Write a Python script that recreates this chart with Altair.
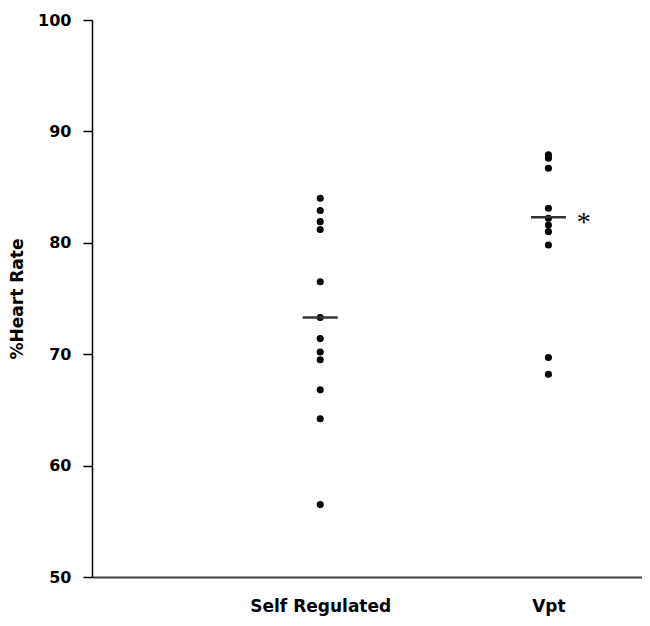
import altair as alt
import pandas as pd

categories = ["Self Regulated", "Vpt"]
self_regulated = [84.0, 82.9, 81.9, 81.2, 76.5, 73.3, 71.4, 70.2, 69.5, 66.8, 64.2, 56.5]
vpt = [87.9, 87.6, 86.7, 83.1, 82.2, 81.6, 81.0, 79.8, 69.7, 68.2]
group_lines = [73.3, 82.3]
significance = ["", "*"]
y_ticks = [50, 60, 70, 80, 90, 100]

rows = []
for i, vals in enumerate([self_regulated, vpt]):
    for v in vals:
        rows.append({"pos": i + 1, "group": categories[i], "value": v})
dots = pd.DataFrame(rows)
lines = pd.DataFrame({"pos": [1, 2], "group": categories, "value": group_lines})
stars = pd.DataFrame({"pos": [p + 0.155 for p in [1, 2]], "value": group_lines, "label": significance})
stars = stars[stars["label"] != ""]

label_expr = " : ".join(
    [f"datum.value == {i + 1} ? '{c}'" for i, c in enumerate(categories[:-1])] + [f"'{categories[-1]}'"]
)

FONT = "DejaVu Sans"

x_scale = alt.Scale(domain=[0, 2.41], nice=False, zero=False)
y_scale = alt.Scale(domain=[50, 100], nice=False, zero=False)

x_axis = alt.Axis(
    values=[1, 2], labelExpr=label_expr, title=None, ticks=False, grid=False,
    domainColor="#404040", domainWidth=2, labelFont=FONT, labelFontSize=17,
    labelFontWeight="bold", labelColor="black", labelPadding=21,
)
y_axis = alt.Axis(
    values=y_ticks, title="%Heart Rate", grid=False, tickSize=9, tickColor="black",
    tickWidth=1.5, domainColor="black", domainWidth=1.5, labelFont=FONT,
    labelFontSize=16, labelFontWeight="bold", labelColor="black", labelPadding=12,
    titleFont=FONT, titleFontSize=17, titleFontWeight="bold", titleColor="black",
    titlePadding=11,
)

points = alt.Chart(dots).mark_circle(size=50, color="black", opacity=1).encode(
    x=alt.X("pos:Q", scale=x_scale, axis=x_axis),
    y=alt.Y("value:Q", scale=y_scale, axis=y_axis),
)

ticks = alt.Chart(lines).mark_tick(
    orient="horizontal", size=35, thickness=2.5, color="#333333", opacity=1
).encode(
    x=alt.X("pos:Q", scale=x_scale),
    y=alt.Y("value:Q", scale=y_scale),
)

star_text = alt.Chart(stars).mark_text(
    font="Liberation Serif", fontSize=28, color="black", align="center", baseline="middle", dy=6
).encode(
    x=alt.X("pos:Q", scale=x_scale),
    y=alt.Y("value:Q", scale=y_scale),
    text="label:N",
)

chart = alt.layer(points, ticks, star_text).properties(
    width=550, height=557,
    autosize=alt.AutoSizeParams(type="none"),
    padding={"left": 84, "top": 12, "right": 0, "bottom": 46},
).configure(background="white").configure_view(stroke=None)

chart.save("out.html", embed_options={"renderer": "svg", "actions": False})
